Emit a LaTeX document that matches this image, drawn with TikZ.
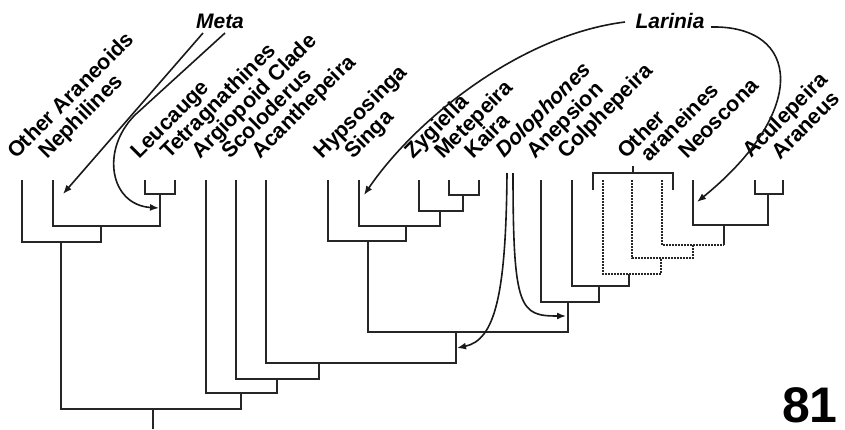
\documentclass[tikz,border=0pt]{standalone}
\usepackage{fontspec}
\setmainfont{Liberation Sans}
\usetikzlibrary{arrows.meta}
\begin{document}
\begin{tikzpicture}[x=1pt,y=-1pt,
  br/.style={line width=1.7pt, draw=black!85},
  dotbr/.style={line width=1.7pt, draw=black!85, dash pattern=on 1.6pt off 1.4pt},
  taxon/.style={rotate=45, anchor=base west, inner sep=0pt, font=\fontsize{21.5}{24}\selectfont\bfseries},
  ttl/.style={anchor=base, inner sep=0pt, font=\fontsize{21}{24}\selectfont\bfseries\itshape},
  moveto/.style={line width=1.6pt, draw=black!90, -{Latex[length=9pt,width=7pt]}}]
\useasboundingbox (0,0) rectangle (845,429);
% ---- tips ----
\foreach \n/\x in {t1/22,t2/53,t3/145,t4/175,t5/206,t6/236,t7/266,t8/328,t9/359,
  t10/419,t11/449,t12/479,t13/541,t14/572,t16/693,t17/755,t18/783}
  {\coordinate (\n) at (\x,180);}
\foreach \n/\x in {d1/603,d2/632,d3/662}{\coordinate (\n) at (\x,180);}
% ---- internal nodes (stem x, bar y) ----
\coordinate (nLT) at (160,194);
\coordinate (nN)  at (101,226);
\coordinate (nOA) at (61,242);
\coordinate (nRoot) at (153,409);
\coordinate (base) at (153,429);
\coordinate (nArg) at (241,393);
\coordinate (nSc) at (277,379);
\coordinate (nAc) at (319,363);
\coordinate (nAr) at (456,332);
\coordinate (nH) at (368,241);
\coordinate (nS) at (406,226);
\coordinate (nZ) at (440,211);
\coordinate (nM) at (463,195);
\coordinate (nC) at (568,302);
\coordinate (nCo) at (599,286);
\coordinate (nD1) at (629,274);
\coordinate (nD2) at (661,258);
\coordinate (nD3) at (693,245);
\coordinate (nD3r) at (724,245);
\coordinate (nNe) at (724,225);
\coordinate (nAA) at (768,194);
% ---- tree ----
\draw[br] (t3) |- (nLT) -| (t4);
\draw[br] (t2) |- (nN) -| (nLT);
\draw[br] (t1) |- (nOA) -| (nN);
\draw[br] (nOA) |- (nRoot) -| (nArg);
\draw[br] (nRoot) -- (base);
\draw[br] (t5) |- (nArg) -| (nSc);
\draw[br] (t6) |- (nSc) -| (nAc);
\draw[br] (t7) |- (nAc) -| (nAr);
\draw[br] (nH) |- (nAr) -| (nC);
\draw[br] (t8) |- (nH) -| (nS);
\draw[br] (t9) |- (nS) -| (nZ);
\draw[br] (t10) |- (nZ) -| (nM);
\draw[br] (t11) |- (nM) -| (t12);
\draw[br] (t13) |- (nC) -| (nCo);
\draw[br] (t14) |- (nCo) -| (nD1);
\draw[dotbr] (d1) |- (nD1) -| (nD2);
\draw[dotbr] (d2) |- (nD2) -| (nD3);
\draw[dotbr] (d3) |- (nD3) -- (nD3r);
\draw[br] (nD3r) -- (nNe);
\draw[br] (t16) |- (nNe) -| (nAA);
\draw[br] (t17) |- (nAA) -| (t18);
% bracket over "Other araneines"
\coordinate (bl) at (593,190);
\coordinate (brr) at (673,190);
\coordinate (bt) at (633,173);
\coordinate (btt) at (633,166);
\draw[br] (bl) |- (bt) -| (brr);
\draw[br] (bt) -- (btt);
% ---- labels ----
\node[taxon] (l1) at (16,160) {Other Araneoids};
\node[taxon] (l2) at (47,160) {Nephilines};
\node[taxon] (l3) at (139,160) {Leucauge};
\node[taxon] (l4) at (169,160) {Tetragnathines};
\node[taxon] (l5) at (200,160) {Argiopoid Clade};
\node[taxon] (l6) at (230,160) {Scoloderus};
\node[taxon] (l7) at (260,160) {Acanthepeira};
\node[taxon] (l8) at (322,160) {Hypsosinga};
\node[taxon] (l9) at (353,160) {Singa};
\node[taxon] (l10) at (413,160) {Zygiella};
\node[taxon] (l11) at (443,160) {Metepeira};
\node[taxon] (l12) at (473,160) {Kaira};
\node[taxon, font=\fontsize{21.5}{24}\selectfont\bfseries\itshape] (l13) at (504,159) {Dolophones};
\node[taxon] (l14) at (535,160) {Anepsion};
\node[taxon] (l15) at (566,160) {Colphepeira};
\node[taxon] (l16a) at (626,160) {Other};
\node[taxon] (l16b) at (649,163) {araneines};
\node[taxon] (l17) at (687,160) {Neoscona};
\node[taxon] (l18) at (751,159) {Aculepeira};
\node[taxon] (l19) at (780,161) {Araneus};
\node[ttl] (meta) at (220,28) {Meta};
\node[ttl] (larinia) at (670,28) {Larinia};
\node[anchor=base east, inner sep=0pt, font=\fontsize{50}{56}\selectfont\bfseries] (fig) at (838,422) {81};
% ---- arrows ----
\coordinate (m1) at (203,33);
\coordinate (m1e) at (63,194);
\coordinate (m2) at (225,33);
\coordinate (m2a) at (135,115);
\coordinate (m2e) at (159,208);
\draw[moveto] (m1) -- (m1e);
\draw[moveto] (m2) -- (m2a) .. controls (100,150) and (110,205) .. (m2e);
\coordinate (la) at (625,22);
\coordinate (lae) at (364,195);
\coordinate (lb) at (711,27);
\coordinate (lbe) at (697,202);
\draw[moveto] (la) .. controls (520,35) and (415,120) .. (lae);
\draw[moveto] (lb) .. controls (800,25) and (810,110) .. (lbe);
\coordinate (da) at (507,173);
\coordinate (dae) at (457,348);
\coordinate (db) at (513,173);
\coordinate (dbe) at (566,316);
\draw[moveto] (da) .. controls (506,295) and (495,340) .. (dae);
\draw[moveto] (db) .. controls (513,310) and (520,316) .. (dbe);
\end{tikzpicture}
\end{document}
